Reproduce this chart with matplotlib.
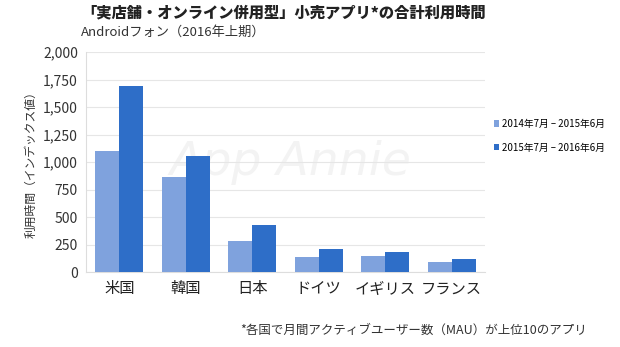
import matplotlib
matplotlib.use('Agg')
import matplotlib.pyplot as plt
import numpy as np

plt.rcParams['font.family'] = ['Noto Sans CJK JP', 'DejaVu Sans']

countries = ['米国', '韓国', '日本', 'ドイツ', 'イギリス', 'フランス']
period1 = [1100, 865, 280, 135, 145, 95]
period2 = [1690, 1055, 430, 210, 180, 120]
labels = ['2014年7月 – 2015年6月', '2015年7月 – 2016年6月']
yticks = [0, 250, 500, 750, 1000, 1250, 1500, 1750, 2000]

light = '#7fa2dd'
dark = '#2e6ec8'

fig = plt.figure(figsize=(6.2, 3.47), dpi=100)
ax = fig.add_axes([0.139, 0.216, 0.643, 0.634])

x = np.arange(len(countries))
w = 0.36
ax.bar(x - w / 2, period1, w, color=light, label=labels[0], zorder=3)
ax.bar(x + w / 2, period2, w, color=dark, label=labels[1], zorder=3)

ax.set_xlim(-0.5, len(countries) - 0.5)
ax.set_ylim(0, 2000)
ax.set_yticks(yticks)
ax.set_yticklabels([f'{v:,}' for v in yticks], fontsize=10, color='#333333')
ax.set_xticks(x)
ax.set_xticklabels(countries, fontsize=11, color='#222222')
ax.tick_params(length=0, pad=6)
ax.grid(axis='y', color='#e6e6e6', linewidth=0.8, zorder=0)
for s in ['top', 'right']:
    ax.spines[s].set_visible(False)
ax.spines['left'].set_color('#dddddd')
ax.spines['bottom'].set_color('#dddddd')

ax.set_ylabel('利用時間（インデックス値）', fontsize=8.5, color='#333333', labelpad=4)

# watermark
ax.text(2.58, 1000, 'App Annie', fontsize=34, style='italic', color='#f3f3f3',
        ha='center', va='center', zorder=1, family='DejaVu Sans')

fig.text(0.457, 0.962, '「実店舗・オンライン併用型」小売アプリ*の合計利用時間',
         fontsize=11, fontweight='heavy', ha='center', va='center', color='#222222')
fig.text(0.131, 0.908, 'Androidフォン（2016年上期）', fontsize=9.5,
         ha='left', va='center', color='#333333')

ax.legend(loc='center left', bbox_to_anchor=(1.0, 0.62), frameon=False,
          fontsize=7, handlelength=0.6, handleheight=0.6, handletextpad=0.3,
          labelspacing=1.4)

fig.text(0.387, 0.049, '*各国で月間アクティブユーザー数（MAU）が上位10のアプリ',
         fontsize=9, ha='left', va='center', color='#333333')

fig.savefig('out.png', dpi=100, facecolor='white')
